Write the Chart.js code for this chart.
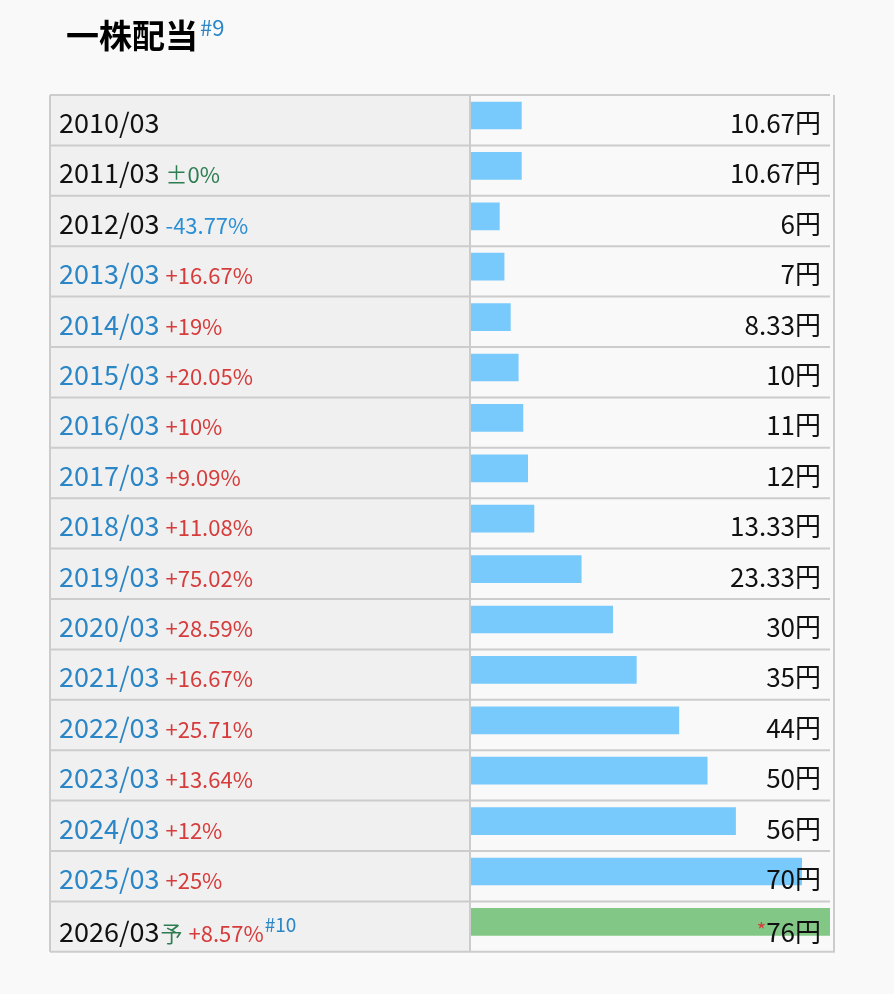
<!DOCTYPE html>
<html>
<head>
<meta charset="utf-8">
<script src="https://cdn.jsdelivr.net/npm/chart.js@4"></script>
<style>
  html, body { margin: 0; padding: 0; background: #f9f9f9; }
  canvas { display: block; }
</style>
</head>
<body>
<canvas id="haitou" width="894" height="994"></canvas>
<script>
const periods = ["2010/03", "2011/03", "2012/03", "2013/03", "2014/03", "2015/03", "2016/03", "2017/03", "2018/03",
  "2019/03", "2020/03", "2021/03", "2022/03", "2023/03", "2024/03", "2025/03", "2026/03"];
const dividends = [10.67, 10.67, 6, 7, 8.33, 10, 11, 12, 13.33, 23.33, 30, 35, 44, 50, 56, 70, 76];
const changes = ["", "±0%", "-43.77%", "+16.67%", "+19%", "+20.05%", "+10%", "+9.09%", "+11.08%",
  "+75.02%", "+28.59%", "+16.67%", "+25.71%", "+13.64%", "+12%", "+25%", "+8.57%"];
const valueLabels = ["10.67円", "10.67円", "6円", "7円", "8.33円", "10円", "11円", "12円", "13.33円",
  "23.33円", "30円", "35円", "44円", "50円", "56円", "70円", "76円"];
// 予想 (forecast) flag per row
const forecast = [false, false, false, false, false, false, false, false, false,
  false, false, false, false, false, false, false, true];
// periods shown as links (blue)
const linked = [false, false, false, true, true, true, true, true, true,
  true, true, true, true, true, true, true, false];

const FONT = '"Noto Sans CJK JP", "Noto Sans", sans-serif';
const BLUE_LINK = "#2a86c6";
const RED = "#d63c3c";
const GREEN = "#2e7d52";
const BORDER = "#cccccc";

const TABLE_L = 50, DIVIDER = 470, LINE_R = 830, VLINE_R = 834;

function changeColor(s) {
  if (s.startsWith("±")) return GREEN;
  if (s.startsWith("-")) return "#2b8fd6";
  return RED;
}

const tablePlugin = {
  id: "tablePlugin",
  beforeDatasetsDraw(chart) {
    const ctx = chart.ctx;
    const y = chart.scales.y;
    const rowH = chart.chartArea.height / periods.length;
    const top0 = y.getPixelForValue(0) - 20.5;
    const bottom = top0 + rowH * periods.length;
    ctx.save();
    // left column background
    ctx.fillStyle = "#f0f0f0";
    ctx.fillRect(TABLE_L, top0, DIVIDER - TABLE_L, bottom - top0);
    ctx.strokeStyle = BORDER;
    ctx.lineWidth = 2;
    for (let i = 0; i <= periods.length; i++) {
      const ly = top0 + rowH * i;
      ctx.beginPath();
      ctx.moveTo(TABLE_L, ly);
      ctx.lineTo(i === periods.length ? VLINE_R + 1 : LINE_R, ly);
      ctx.stroke();
    }
    ctx.beginPath();
    ctx.moveTo(TABLE_L, top0); ctx.lineTo(TABLE_L, bottom);
    ctx.moveTo(DIVIDER, top0); ctx.lineTo(DIVIDER, bottom);
    ctx.moveTo(VLINE_R, top0); ctx.lineTo(VLINE_R, bottom);
    ctx.stroke();

    // title
    ctx.fillStyle = "#000";
    ctx.font = "bold 33px " + FONT;
    ctx.textBaseline = "alphabetic";
    ctx.textAlign = "left";
    ctx.fillText("一株配当", 66, 48);
    const tw = ctx.measureText("一株配当").width;
    ctx.fillStyle = BLUE_LINK;
    ctx.font = "22px " + FONT;
    ctx.fillText("#9", 66 + tw + 2, 36);
    ctx.restore();
  },
  afterDatasetsDraw(chart) {
    const ctx = chart.ctx;
    const y = chart.scales.y;
    ctx.save();
    ctx.textBaseline = "alphabetic";
    periods.forEach((p, i) => {
      // forecast row sits a little lower (superscript in the line)
      const base = y.getPixelForValue(i) - 20.5 + (forecast[i] ? 41 : 38);
      // period
      ctx.textAlign = "left";
      ctx.font = "27px " + FONT;
      ctx.fillStyle = linked[i] ? BLUE_LINK : "#111";
      ctx.fillText(p, 59, base);
      let x = 59 + ctx.measureText(p).width;
      if (forecast[i]) {
        ctx.font = "22px " + FONT;
        ctx.fillStyle = GREEN;
        ctx.fillText("予", x + 1, base);
        x += ctx.measureText("予").width + 1;
      }
      if (changes[i]) {
        x += 6;
        ctx.font = "22px " + FONT;
        ctx.fillStyle = changeColor(changes[i]);
        ctx.fillText(changes[i], x, base);
        x += ctx.measureText(changes[i]).width;
      }
      if (forecast[i]) {
        ctx.font = "19px " + FONT;
        ctx.fillStyle = BLUE_LINK;
        ctx.fillText("#10", x + 1, base - 10);
      }
      // value
      ctx.textAlign = "right";
      ctx.font = "26px " + FONT;
      ctx.fillStyle = "#111";
      ctx.fillText(valueLabels[i], 821, base);
      if (forecast[i]) {
        const vw = ctx.measureText(valueLabels[i]).width;
        ctx.font = "20px " + FONT;
        ctx.fillStyle = RED;
        ctx.fillText("*", 821 - vw, base - 4);
      }
    });
    ctx.restore();
  }
};

new Chart(document.getElementById("haitou"), {
  type: "bar",
  data: {
    labels: periods,
    datasets: [{
      data: dividends,
      backgroundColor: forecast.map(f => f ? "#82c785" : "#78c9fc"),
      barThickness: 27,
      borderWidth: 0
    }]
  },
  options: {
    indexAxis: "y",
    responsive: false,
    animation: false,
    devicePixelRatio: 1,
    layout: { padding: { left: 471, right: 64, top: 90.3, bottom: 46.9 } },
    plugins: { legend: { display: false }, tooltip: { enabled: false } },
    scales: {
      x: { display: false, min: 0, max: 76 },
      y: { display: false }
    }
  },
  plugins: [tablePlugin]
});
</script>
</body>
</html>
